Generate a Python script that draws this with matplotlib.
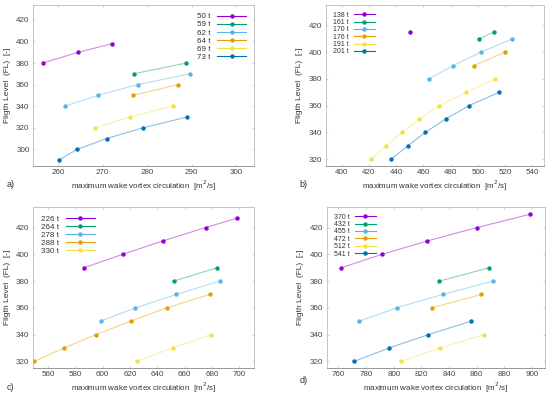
import numpy as np
import matplotlib
matplotlib.use("Agg")
import matplotlib.pyplot as plt

# gnuplot default colours
colors = ['#9400d3', '#009e73', '#56b4e9', '#e69f00', '#f0e442', '#0072b2']

# panel a)
a_labels = ['50 t', '59 t', '62 t', '64 t', '69 t', '73 t']
a_x = [[256.6, 264.6, 272.2],
       [277.0, 288.8],
       [261.5, 268.9, 277.9, 289.6],
       [276.8, 286.9],
       [268.3, 276.2, 285.7],
       [260.2, 264.3, 270.9, 279.1, 289.0]]
a_y = [[380, 390, 398],
       [370, 380],
       [340, 350, 360, 370],
       [350, 360],
       [320, 330, 340],
       [290, 300, 310, 320, 330]]

# panel b)
b_labels = ['138 t', '161 t', '170 t', '176 t', '191 t', '201 t']
b_x = [[450.5],
       [501.0, 511.8],
       [463.9, 482.0, 502.3, 525.3],
       [497.3, 519.8],
       [421.6, 432.6, 444.5, 457.0, 471.6, 491.2, 512.5],
       [436.5, 448.5, 461.4, 476.4, 493.5, 515.5]]
b_y = [[415],
       [410, 415],
       [380, 390, 400, 410],
       [390, 400],
       [320, 330, 340, 350, 360, 370, 380],
       [320, 330, 340, 350, 360, 370]]

# panel c)
c_labels = ['226 t', '264 t', '278 t', '288 t', '330 t']
c_x = [[586.4, 614.7, 644.0, 675.3, 698.3],
       [652.0, 683.8],
       [598.4, 624.0, 654.0, 685.6],
       [550.0, 571.7, 595.2, 620.4, 647.0, 678.2],
       [625.0, 651.1, 679.0]]
c_y = [[390, 400, 410, 420, 427],
       [380, 390],
       [350, 360, 370, 380],
       [320, 330, 340, 350, 360, 370],
       [320, 330, 340]]

# panel d)
d_labels = ['370 t', '432 t', '455 t', '472 t', '512 t', '541 t']
d_x = [[762.0, 791.6, 824.3, 860.0, 898.6],
       [833.0, 869.2],
       [775.0, 802.3, 835.4, 871.8],
       [827.4, 863.3],
       [805.4, 833.7, 865.2],
       [771.6, 796.7, 825.0, 856.0]]
d_y = [[390, 400, 410, 420, 430],
       [380, 390],
       [350, 360, 370, 380],
       [360, 370],
       [320, 330, 340],
       [320, 330, 340, 350]]

plt.rcParams['font.family'] = ['Liberation Sans', 'DejaVu Sans']
fig = plt.figure(figsize=(5.5, 3.94), dpi=100)

boxes = [[0.060, 0.579, 0.402, 0.409],
         [0.592, 0.579, 0.397, 0.409],
         [0.060, 0.066, 0.402, 0.409],
         [0.594, 0.066, 0.396, 0.409]]
panels = [(a_labels, a_x, a_y), (b_labels, b_x, b_y),
          (c_labels, c_x, c_y), (d_labels, d_x, d_y)]
xlims = [(254.4, 304), (388.3, 548.5), (549, 710.8), (751.5, 909)]
ylims = [(284.7, 434), (315, 435.5), (315, 435.5), (315, 435.5)]
xticks = [np.arange(260, 301, 10), np.arange(400, 541, 20),
          np.arange(560, 701, 20), np.arange(760, 901, 20)]
yticks = [np.arange(300, 421, 20), np.arange(320, 421, 20),
          np.arange(320, 421, 20), np.arange(320, 421, 20)]
tags = ['a)', 'b)', 'c)', 'd)']
tag_pos = [(0.012, 0.525), (0.545, 0.525), (0.012, 0.010), (0.545, 0.027)]
leg_loc = ['upper right', 'upper left', 'upper left', 'upper left']
leg_size = [5.8, 5.0, 5.8, 5.0]
leg_hl = [3.6, 3.0, 3.6, 3.0]

for i, (labels, xs, ys) in enumerate(panels):
    ax = fig.add_axes(boxes[i])
    for j in range(len(labels)):
        c = colors[j]
        ax.plot(xs[j], ys[j], '-', color=c, lw=0.8, alpha=0.45)
        ax.plot(xs[j], ys[j], 'o', color=c, ms=3.2, mec='none')
        # legend proxy: line + marker
        ax.plot([], [], '-o', color=c, lw=0.8, ms=3.2, mec='none', label=labels[j])
    ax.set_xlim(xlims[i])
    ax.set_ylim(ylims[i])
    ax.set_xticks(xticks[i])
    ax.set_yticks(yticks[i])
    ax.tick_params(direction='in', length=1.5, width=0.5, labelsize=5.8,
                   colors='#bbbbbb', labelcolor='#444444', pad=2.5,
                   top=True, right=True)
    for s in ax.spines.values():
        s.set_color('#bbbbbb')
        s.set_linewidth(0.6)
    ax.spines['bottom'].set_color('#888888')
    ax.set_xlabel('maximum wake vortex circulation  [m$^2$/s]', fontsize=5.8,
                  color='#333333', labelpad=1.5)
    ax.set_ylabel('Fligth Level  (FL)  [-]', fontsize=6, color='#333333',
                  labelpad=4)
    leg = ax.legend(loc=leg_loc[i], frameon=False, markerfirst=False,
                    fontsize=leg_size[i], handlelength=leg_hl[i], handletextpad=0.8,
                    labelspacing=0.05, borderaxespad=0.6)
    for t in leg.get_texts():
        t.set_color('#333333')
    fig.text(tag_pos[i][0], tag_pos[i][1], tags[i], fontsize=6.5, color='#333333')

plt.savefig('out.png', dpi=100)
